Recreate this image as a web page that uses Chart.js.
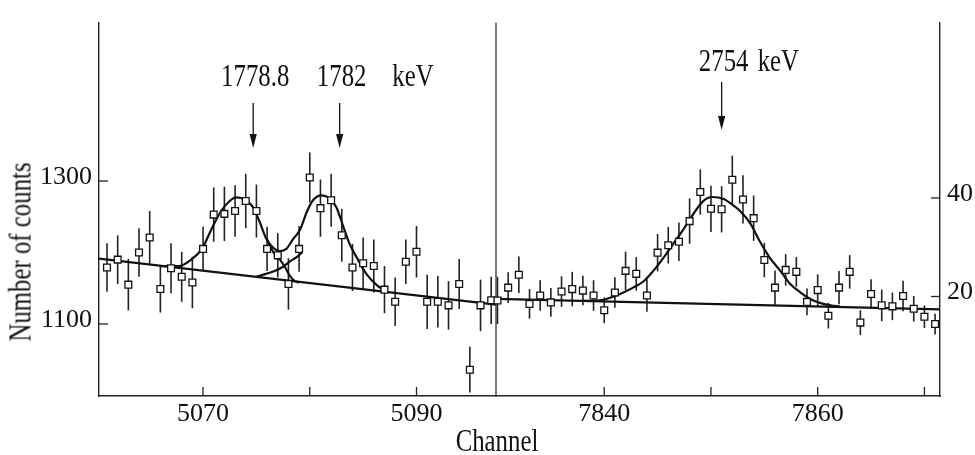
<!DOCTYPE html>
<html lang="en">
<head>
<meta charset="utf-8">
<title>Number of counts vs Channel</title>
<script src="https://cdn.jsdelivr.net/npm/chart.js"></script>
<style>
  body { margin: 0; background: #fff; }
  #wrap { position: relative; width: 975px; height: 455px; overflow: hidden; }
  #wrap canvas { position: absolute; left: 0; top: 0; }
  .lbl { position: absolute; font-family: "Liberation Serif", "Times New Roman", serif;
         font-size: 31px; color: #111; white-space: nowrap; line-height: 1; }
  #ytitle { left: 20px; top: 252px; transform: translate(-50%, -50%) rotate(-90deg) scaleX(0.8); }
  #xtitle { left: 497px; top: 440px; transform: translate(-50%, -50%) scaleX(0.8); }
</style>
</head>
<body>
<div id="wrap">
  <canvas id="leftChart" width="975" height="455"></canvas>
  <canvas id="rightChart" width="975" height="455"></canvas>
  <div class="lbl" id="ytitle">Number of counts</div>
  <div class="lbl" id="xtitle">Channel</div>
</div>

<script>
// ---- left panel (1778.8 / 1782 keV doublet) ----
const chanL = [5061, 5062, 5063, 5064, 5065, 5066, 5067, 5068, 5069, 5070,
               5071, 5072, 5073, 5074, 5075, 5076, 5077, 5078, 5079, 5080,
               5081, 5082, 5083, 5084, 5085, 5086, 5087, 5088, 5089, 5090,
               5091, 5092, 5093, 5094, 5095, 5096, 5097];
const countsL = [1179, 1190, 1155, 1200, 1221, 1149, 1178, 1166, 1158, 1205,
                 1253, 1254, 1258, 1272, 1258, 1205, 1196, 1156, 1205, 1305,
                 1262, 1273, 1224, 1179, 1185, 1181, 1148, 1131, 1187, 1201,
                 1131, 1131, 1126, 1156, 1036, 1126, 1133];
const errL = [34, 34, 36, 34, 37, 33, 35, 35, 36, 31,
              38, 38, 36, 38, 37, 31, 31, 36, 32, 35,
              40, 37, 37, 33, 36, 37, 33, 34, 31, 36,
              38, 36, 34, 35, 32, 36, 33];

// fit curves
const fitL_ch = [5066.0, 5067.8, 5068.8, 5069.9, 5070.8, 5071.7, 5072.5, 5073.1, 5073.9, 5074.7,
                 5075.3, 5075.9, 5076.6, 5077.2, 5077.8, 5078.4, 5079.1, 5079.7, 5080.3, 5081.1,
                 5081.9, 5082.5, 5083.1, 5083.7, 5084.4, 5085.3, 5086.3, 5087.0];
const fitL_counts = [1181, 1181, 1189, 1205, 1233, 1258, 1272, 1277, 1274, 1263,
                     1243, 1220, 1206, 1202, 1205, 1218, 1232, 1256, 1273, 1280,
                     1275, 1263, 1238, 1213, 1193, 1170, 1154, 1147];
const tail1_ch = [5076.0, 5076.6, 5077.2, 5077.7, 5078.1, 5078.6, 5079.0];
const tail1_counts = [1218, 1200, 1190, 1179, 1168, 1160, 1158];
const tail2_ch = [5075.0, 5075.9, 5076.7, 5077.5, 5078.1, 5078.8, 5079.3];
const tail2_counts = [1166, 1170, 1174, 1180, 1187, 1194, 1200];
const bgL_ch = [5060.25, 5097.45];
const bgL_counts = [1191.5, 1127];

const xTicksL = [5070, 5080, 5090];
const xLabelsL = ['5070', '', '5090'];
const yTicksL = [1100, 1300];

// ---- right panel (2754 keV) ----
const chanR = [7830, 7831, 7832, 7833, 7834, 7835, 7836, 7837, 7838, 7839,
               7840, 7841, 7842, 7843, 7844, 7845, 7846, 7847, 7848, 7849,
               7850, 7851, 7852, 7853, 7854, 7855, 7856, 7857, 7858, 7859,
               7860, 7861, 7862, 7863, 7864, 7865, 7866, 7867, 7868, 7869,
               7870, 7871];
const countsR = [19.2, 21.8, 24.4, 18.5, 20.2, 18.8, 21.0, 21.5, 21.2, 20.2,
                 17.2, 20.8, 25.2, 24.6, 20.2, 28.9, 30.4, 31.1, 35.3, 41.2,
                 37.8, 37.7, 43.7, 39.7, 35.9, 27.4, 21.8, 25.4, 25.0, 18.9,
                 21.3, 16.1, 21.8, 25.0, 14.7, 20.5, 18.2, 18.0, 20.1, 17.5,
                 15.9, 14.4];
const errR = [4.8, 3.1, 3.7, 3.0, 3.1, 2.9, 3.1, 3.5, 3.0, 3.1,
              2.6, 3.1, 3.9, 3.4, 3.3, 3.8, 3.7, 3.9, 4.6, 4.6,
              4.7, 4.7, 4.9, 4.9, 4.6, 3.5, 3.5, 3.2, 3.0, 2.7,
              3.2, 2.6, 3.4, 3.4, 2.5, 3.0, 3.2, 2.8, 3.1, 2.6,
              2.3, 2.1];

const fitR_ch = [7838.0, 7838.7, 7839.9, 7840.9, 7841.8, 7842.7, 7843.7, 7844.6, 7845.6, 7846.5,
                 7847.5, 7848.4, 7849.3, 7850.1, 7851.2, 7851.9, 7852.7, 7853.7, 7854.6, 7855.5,
                 7856.5, 7857.4, 7858.4, 7859.3, 7860.2, 7861.2, 7862.1];
const fitR_counts = [19.1, 19.1, 19.3, 20.0, 20.8, 21.8, 23.1, 25.2, 28.0, 30.8,
                     33.9, 36.9, 39.4, 40.2, 39.8, 38.8, 37.4, 34.8, 31.1, 27.9,
                     25.2, 22.6, 20.8, 19.5, 18.7, 18.2, 17.95];
const bgR_ch = [7829.86, 7871.46];
const bgR_counts = [19.5, 17.4];

const xTicksR = [7840, 7850, 7860, 7870];
const xLabelsR = ['7840', '', '7860', ''];
const yTicksR = [20, 40];

// peak markers
const peakChL = [5074.7, 5082.8];
const peakTextL = ['1778.8', '1782'];
const peakChR = [7851.0];
const peakTextR = ['2754'];

// ---------------------------------------------------------------
const INK = '#111';
const serif = '"Liberation Serif", "Times New Roman", serif';

function pts(xs, ys) { return xs.map((x, i) => ({ x: x, y: ys[i] })); }

function curve(xs, ys) {
  return { data: pts(xs, ys), showLine: true, pointRadius: 0, borderColor: INK,
           borderWidth: 2.2, cubicInterpolationMode: 'monotone', order: 1 };
}
function markers(xs, ys, errs) {
  return { data: pts(xs, ys), errors: errs, showLine: false, pointStyle: 'rect',
           pointRadius: 4.8, pointBackgroundColor: '#fff', pointBorderColor: INK,
           pointBorderWidth: 1.3, order: 0, clip: false };
}

// vertical error bars through the chart scales
const errorBars = {
  id: 'errorBars',
  beforeDatasetsDraw(chart) {
    const ctx = chart.ctx, xs = chart.scales.x, ys = chart.scales.y;
    chart.data.datasets.forEach(ds => {
      if (!ds.errors) return;
      ctx.save();
      ctx.strokeStyle = '#222';
      ctx.lineWidth = 1.6;
      ds.data.forEach((p, i) => {
        const px = xs.getPixelForValue(p.x);
        ctx.beginPath();
        ctx.moveTo(px, ys.getPixelForValue(p.y - ds.errors[i]));
        ctx.lineTo(px, ys.getPixelForValue(p.y + ds.errors[i]));
        ctx.stroke();
      });
      ctx.restore();
    });
  }
};

// inward tick marks, divider, arrows and energy labels
const frame = {
  id: 'frame',
  afterDraw(chart, args, o) {
    const ctx = chart.ctx, a = chart.chartArea, xs = chart.scales.x, ys = chart.scales.y;
    ctx.save();
    ctx.strokeStyle = '#222';
    ctx.lineWidth = 1.3;
    const line = (x1, y1, x2, y2) => { ctx.beginPath(); ctx.moveTo(x1, y1); ctx.lineTo(x2, y2); ctx.stroke(); };
    xs.ticks.forEach(t => { const px = xs.getPixelForValue(t.value); line(px, a.bottom, px, a.bottom - 9); });
    ys.ticks.forEach(t => {
      const py = ys.getPixelForValue(t.value);
      if (o.side === 'right') line(a.right, py, a.right - 9, py);
      else line(a.left, py, a.left + 9, py);
    });
    if (o.divider) { ctx.lineWidth = 1.2; line(a.right, a.top, a.right, a.bottom); }

    // arrows
    ctx.fillStyle = INK;
    ctx.strokeStyle = INK;
    ctx.lineWidth = 1.3;
    o.arrows.forEach(ch => {
      const px = xs.getPixelForValue(ch);
      line(px, o.arrowTop, px, o.arrowTip - 10);
      ctx.beginPath();
      ctx.moveTo(px, o.arrowTip);
      ctx.lineTo(px - 3.6, o.arrowTip - 14);
      ctx.lineTo(px + 3.6, o.arrowTip - 14);
      ctx.closePath();
      ctx.fill();
    });

    // labels (condensed serif like the original figure)
    ctx.font = '31px ' + serif;
    ctx.textBaseline = 'alphabetic';
    const text = (s, cx, by, align) => {
      ctx.save();
      ctx.translate(cx, by);
      ctx.scale(0.8, 1);
      ctx.textAlign = align;
      ctx.fillText(s, 0, 0);
      ctx.restore();
    };
    o.texts.forEach((s, i) => text(s, xs.getPixelForValue(o.arrows[i]) + (o.textShift || 0), o.textBase, 'center'));
    if (o.unitX) text('keV', o.unitX, o.textBase, 'center');
    if (o.unitAfter) text('keV', xs.getPixelForValue(o.arrows[0]) + o.unitAfter, o.textBase, 'left');
    ctx.restore();
  }
};

function axes(xmin, xmax, xt, xl, ymin, ymax, yt, side) {
  return {
    x: {
      type: 'linear', min: xmin, max: xmax,
      afterBuildTicks: s => { s.ticks = xt.map(v => ({ value: v })); },
      afterFit: s => { s.height = 59; },
      grid: { display: false, drawTicks: false },
      border: { display: true, color: '#222', width: 1.4 },
      ticks: { autoSkip: false, maxRotation: 0, padding: 3, color: INK,
               font: { family: serif, size: 26 },
               callback: v => { const i = xt.indexOf(v); return i >= 0 ? xl[i] : ''; } }
    },
    y: {
      type: 'linear', position: side, min: ymin, max: ymax,
      afterBuildTicks: s => { s.ticks = yt.map(v => ({ value: v })); },
      afterFit: s => { s.width = side === 'left' ? 99 : 35; },
      grid: { display: false, drawTicks: false },
      border: { display: true, color: '#222', width: 1.4 },
      ticks: { padding: 7, labelOffset: -4, color: INK, font: { family: serif, size: 26 },
               callback: v => String(v) }
    }
  };
}

const common = {
  responsive: false, animation: false, events: [],
  plugins: { legend: { display: false }, tooltip: { enabled: false } }
};

new Chart(document.getElementById('leftChart'), {
  type: 'scatter',
  data: { datasets: [
    markers(chanL, countsL, errL),
    curve(fitL_ch, fitL_counts),
    curve(tail1_ch, tail1_counts),
    curve(tail2_ch, tail2_counts),
    curve(bgL_ch, bgL_counts)
  ] },
  options: Object.assign({}, common, {
    layout: { padding: { left: 0, right: 479, top: 11, bottom: 0 } },
    scales: axes(5060.25, 5097.45, xTicksL, xLabelsL, 999.2, 1521.6, yTicksL, 'left'),
    plugins: Object.assign({}, common.plugins, {
      frame: { side: 'left', divider: true, arrows: peakChL, texts: peakTextL,
               arrowTop: 103, arrowTip: 148, textBase: 86, textShift: 2, unitX: 413 }
    })
  }),
  plugins: [errorBars, frame]
});

new Chart(document.getElementById('rightChart'), {
  type: 'scatter',
  data: { datasets: [
    markers(chanR, countsR, errR),
    curve(fitR_ch, fitR_counts),
    curve(bgR_ch, bgR_counts)
  ] },
  options: Object.assign({}, common, {
    layout: { padding: { left: 496, right: 0, top: 11, bottom: 0 } },
    scales: axes(7829.86, 7871.46, xTicksR, xLabelsR, -0.2, 75.6, yTicksR, 'right'),
    plugins: Object.assign({}, common.plugins, {
      frame: { side: 'right', divider: false, arrows: peakChR, texts: peakTextR,
               arrowTop: 82, arrowTip: 130, textBase: 71, textShift: 2, unitAfter: 36 }
    })
  }),
  plugins: [errorBars, frame]
});
</script>
</body>
</html>
